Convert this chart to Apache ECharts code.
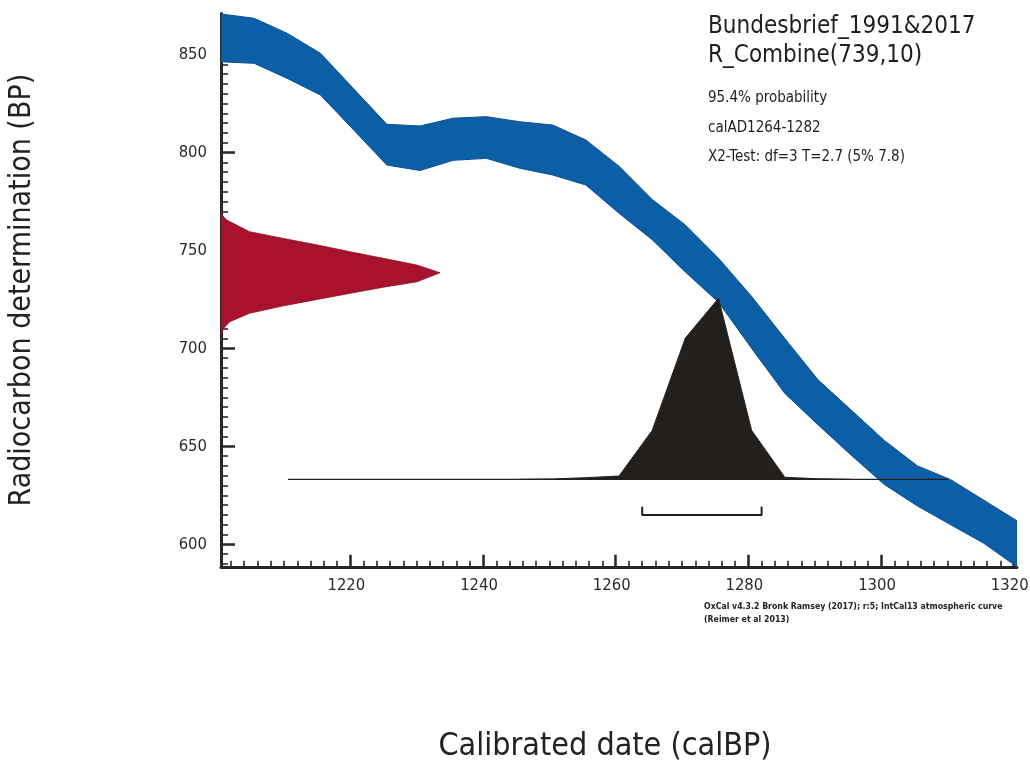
<!DOCTYPE html>
<html>
<head>
<meta charset="utf-8">
<script src="https://cdn.jsdelivr.net/npm/echarts@6/dist/echarts.min.js"></script>
<style>
html,body{margin:0;padding:0;background:#fff;}
#chart{width:1030px;height:774px;}
</style>
</head>
<body>
<div id="chart"></div>
<script>
// ---- Data ----
// Calibration curve (IntCal13) 1-sigma band: calendar year AD, upper and lower BP edges
const bandYears = [1200.5,1205.5,1210.5,1215.5,1220.5,1225.5,1230.5,1235.5,1240.5,1245.5,1250.5,1255.5,1260.5,1265.5,1270.5,1275.5,1280.5,1285.5,1290.5,1295.5,1300.5,1305.5,1310.5,1315.5,1320.5];
const bandUpper = [870.7,868.5,860.8,850.6,832.5,814.4,813.5,817.5,818.3,815.7,814.0,806.4,793.0,776.0,763.0,746.0,726.5,705.0,684.0,668.5,653.0,640.0,633.0,622.5,612.0];
const bandLower = [846.3,845.5,837.8,829.3,811.5,793.6,790.8,796.0,797.0,792.0,788.5,783.4,769.0,755.5,739.0,723.5,700.0,677.0,661.0,645.5,630.5,619.5,610.0,600.5,588.5];

// Radiocarbon measurement R_Combine(739,10): BP value and relative probability
const redBP   = [770.6,768.0,765.5,759.6,756.2,752.8,749.3,746.0,742.5,738.6,734.0,731.2,728.1,725.0,721.6,717.9,713.6,710.0,706.0];
const redProb = [0.0,0.006,0.026,0.13,0.28,0.44,0.59,0.74,0.895,1.0,0.895,0.74,0.59,0.44,0.28,0.13,0.04,0.01,0.0];

// Calibrated distribution: calendar year AD and relative probability
const calYears = [1245.5,1250.5,1255.5,1260.5,1265.5,1270.5,1275.5,1280.5,1285.5,1290.5,1295.5];
const calProb  = [0.0,0.002,0.009,0.018,0.27,0.78,1.0,0.27,0.011,0.003,0.0];
const calBaseline = [1210.6, 1310.1];

// 95.4% range
const rangeAD = [1264, 1282];

// Tick labels
const xTicks = [1220,1240,1260,1280,1300,1320];
const yTicks = [600,650,700,750,800,850];

const titleLines = ['Bundesbrief_1991&2017','R_Combine(739,10)'];
const infoLines = ['95.4% probability','calAD1264-1282','X2-Test: df=3 T=2.7 (5% 7.8)'];
const noteLines = ['OxCal v4.3.2 Bronk Ramsey (2017); r:5; IntCal13 atmospheric curve','(Reimer et al 2013)'];
const xName = 'Calibrated date (calBP)';
const yName = 'Radiocarbon determination (BP)';

// ---- Chart ----
const FONT = "'Liberation Sans Narrow','DejaVu Sans Condensed','Liberation Sans',sans-serif";
const INK = '#2a2522';
const X_MIN = 1200.5, X_MAX = 1320.5, Y_MIN = 588.5, Y_MAX = 871;

const xMinor = [], yMinor = [];
for (let v = 1202; v <= 1320; v += 2) if (v % 20) xMinor.push(v);
for (let v = 590; v <= 870; v += 5) if (v % 50) yMinor.push(v);

const chart = echarts.init(document.getElementById('chart'), null, {renderer:'canvas'});

const plain = v => String(v);
const option = {
  animation:false,
  backgroundColor:'#ffffff',
  grid:{left:221, top:13.4, width:796, height:553.4, containLabel:false, outerBoundsMode:'none'},
  xAxis:[
    {type:'value', min:X_MIN, max:X_MAX, position:'bottom',
     name:xName, nameLocation:'middle', nameGap:164,
     nameTextStyle:{fontFamily:FONT, fontSize:32, color:'#222', padding:[0,28,0,0]},
     axisLine:{show:true, onZero:false, lineStyle:{color:INK, width:3}},
     axisTick:{show:true, inside:true, length:12, lineStyle:{color:INK, width:2.5}, customValues:xTicks},
     axisLabel:{show:true, customValues:xTicks, formatter:plain, margin:10, padding:[0,8,0,0], fontFamily:FONT, fontSize:16.5, color:'#2a2a2a'},
     splitLine:{show:false}},
    {type:'value', min:X_MIN, max:X_MAX, position:'bottom',
     axisLine:{show:false, onZero:false},
     axisTick:{show:true, inside:true, length:6, lineStyle:{color:INK, width:1.6}, customValues:xMinor},
     axisLabel:{show:false}, splitLine:{show:false}},
    {type:'value', min:0, max:796/219, position:'top', show:false,
     axisLine:{show:false, onZero:false}}
  ],
  yAxis:[
    {type:'value', min:Y_MIN, max:Y_MAX, position:'left',
     name:yName, nameLocation:'middle', nameGap:184, nameRotate:90,
     nameTextStyle:{fontFamily:FONT, fontSize:30, color:'#222'},
     axisLine:{show:true, onZero:false, lineStyle:{color:INK, width:3}},
     axisTick:{show:true, inside:true, length:14, lineStyle:{color:INK, width:2.5}, customValues:yTicks},
     axisLabel:{show:true, customValues:yTicks, formatter:plain, margin:14, fontFamily:FONT, fontSize:16.5, color:'#2a2a2a'},
     splitLine:{show:false}},
    {type:'value', min:Y_MIN, max:Y_MAX, position:'left',
     axisLine:{show:false, onZero:false},
     axisTick:{show:true, inside:true, length:7, lineStyle:{color:INK, width:1.6}, customValues:yMinor},
     axisLabel:{show:false}, splitLine:{show:false}},
    {type:'value', min:-87.5/181, max:465.9/181, position:'right', show:false,
     axisLine:{show:false, onZero:false}}
  ],
  series:[
    {
      type:'custom', name:'IntCal13', xAxisIndex:0, yAxisIndex:0, clip:true, z:2,
      data: bandYears.map((y,i)=>[y, bandUpper[i], bandLower[i]]),
      encode:{x:0, y:[1,2]},
      renderItem:function(params, api){
        if (params.dataIndex !== 0) return null;
        const pts = [];
        for (let i = 0; i < bandYears.length; i++) pts.push(api.coord([bandYears[i], bandUpper[i]]));
        for (let i = bandYears.length - 1; i >= 0; i--) pts.push(api.coord([bandYears[i], bandLower[i]]));
        return {type:'polygon', shape:{points:pts}, style:{fill:'#0b5fa6', stroke:'#0a4e8e', lineWidth:1}};
      }
    },
    {
      type:'custom', name:'R_Combine', xAxisIndex:2, yAxisIndex:0, clip:true, z:3,
      data: redBP.map((b,i)=>[redProb[i], b]),
      encode:{x:0, y:1},
      renderItem:function(params, api){
        if (params.dataIndex !== 0) return null;
        const pts = [api.coord([0, redBP[0]])];
        for (let i = 0; i < redBP.length; i++) pts.push(api.coord([redProb[i], redBP[i]]));
        pts.push(api.coord([0, redBP[redBP.length-1]]));
        return {type:'polygon', shape:{points:pts}, style:{fill:'#a8122c', stroke:'#8e0f25', lineWidth:0.8}};
      }
    },
    {
      type:'line', name:'calibrated', xAxisIndex:0, yAxisIndex:2, z:4,
      data: calYears.map((y,i)=>[y, calProb[i]]),
      symbol:'none', lineStyle:{color:'#231f1c', width:1},
      areaStyle:{color:'#231f1c', opacity:1, origin:0}
    },
    {
      type:'line', name:'baseline', xAxisIndex:0, yAxisIndex:2, z:5,
      data: [[calBaseline[0], 0],[calBaseline[1], 0]],
      symbol:'none', lineStyle:{color:'#231f1c', width:1.2}
    },
    {
      type:'line', name:'range', xAxisIndex:0, yAxisIndex:2, z:5,
      data: [[rangeAD[0], -0.151],[rangeAD[0], -0.197],[rangeAD[1], -0.197],[rangeAD[1], -0.151]],
      symbol:'none', lineStyle:{color:'#231f1c', width:2}
    }
  ],
  graphic:[
    {type:'text', left:708, top:15, style:{text:titleLines[0], font:"24px "+FONT, fill:'#1e1e1e'}},
    {type:'text', left:708, top:44, style:{text:titleLines[1], font:"24px "+FONT, fill:'#1e1e1e'}},
    {type:'text', left:708, top:91, style:{text:infoLines[0], font:"15px "+FONT, fill:'#1e1e1e'}},
    {type:'text', left:708, top:121, style:{text:infoLines[1], font:"15px "+FONT, fill:'#1e1e1e'}},
    {type:'text', left:708, top:150, style:{text:infoLines[2], font:"15px "+FONT, fill:'#1e1e1e'}},
    {type:'text', left:704, top:602, style:{text:noteLines[0], font:"bold 8.7px "+FONT, fill:'#222'}},
    {type:'text', left:704, top:615, style:{text:noteLines[1], font:"bold 8.7px "+FONT, fill:'#222'}}
  ]
};
chart.setOption(option);
</script>
</body>
</html>
